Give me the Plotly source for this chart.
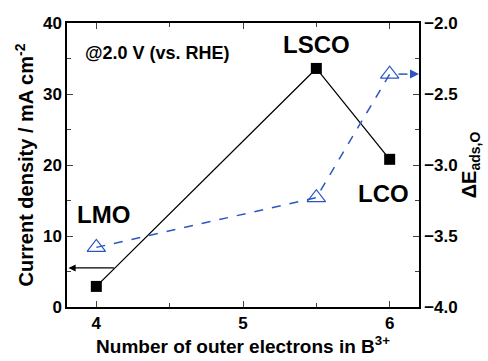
import plotly.graph_objects as go

electrons = [4, 5.5, 6]
current_density = [2.9, 33.6, 20.8]
delta_e = [-3.58, -3.23, -2.36]
labels = ["LMO", "LSCO", "LCO"]
label_x = [4.05, 5.5, 5.96]
label_y = [13.0, 37.0, 16.0]

BLUE = "#2b56c2"
FONT = "Liberation Sans"

fig = go.Figure()
fig.add_trace(go.Scatter(
    x=electrons, y=current_density, mode="lines+markers",
    line=dict(color="black", width=1.3),
    marker=dict(symbol="square", size=11, color="black"),
    showlegend=False, yaxis="y", cliponaxis=False))
fig.add_trace(go.Scatter(
    x=electrons, y=delta_e, mode="lines+markers",
    line=dict(color=BLUE, width=1.5, dash="dash"),
    marker=dict(symbol="triangle-up-open", size=16, color=BLUE, line=dict(width=1.2)),
    showlegend=False, yaxis="y2", cliponaxis=False))

# blue dashed arrow to right axis
fig.add_trace(go.Scatter(
    x=[6.06, 6.17], y=[delta_e[2], delta_e[2]], mode="lines",
    line=dict(color=BLUE, width=1.5, dash="dash"),
    showlegend=False, yaxis="y2", cliponaxis=False))
fig.add_annotation(x=6.2, y=delta_e[2], ax=6.15, ay=delta_e[2], xref="x", yref="y2",
                   axref="x", ayref="y2", showarrow=True, arrowhead=2, arrowsize=1.2,
                   arrowwidth=1.5, arrowcolor=BLUE, text="")
# black arrow to left axis
fig.add_annotation(x=3.81, y=5.5, ax=4.13, ay=5.5, xref="x", yref="y",
                   axref="x", ayref="y", showarrow=True, arrowhead=2, arrowsize=1.1,
                   arrowwidth=1.3, arrowcolor="black", text="")

for t, lx, ly in zip(labels, label_x, label_y):
    fig.add_annotation(x=lx, y=ly, xref="x", yref="y", text=t, showarrow=False,
                       font=dict(family=FONT, size=24, color="black", weight="bold"))

fig.add_annotation(x=0.045, y=0.935, xref="paper", yref="paper", xanchor="left",
                   text="@2.0 V (vs. RHE)", showarrow=False,
                   font=dict(family=FONT, size=18, color="black", weight="bold"))

tickfont = dict(family=FONT, size=17, color="black", weight="bold")
titlefont = dict(family=FONT, size=20, color="black", weight="bold")
xtitlefont = dict(family=FONT, size=19, color="black", weight="bold")

fig.update_layout(
    width=488, height=361,
    margin=dict(l=67, r=64, t=23, b=51),
    paper_bgcolor="white", plot_bgcolor="white",
    xaxis=dict(range=[3.8, 6.2], tickvals=[4, 5, 6], ticks="inside", ticklen=6,
               tickwidth=1.3, showline=True, linecolor="black", linewidth=1.5,
               mirror="ticks", showgrid=False, zeroline=False, tickfont=tickfont,
               minor=dict(tickvals=[4.5, 5.5], ticks="inside", ticklen=4, tickwidth=1.3),
               title=dict(text="Number of outer electrons in B<sup>3+</sup>", font=xtitlefont, standoff=3)),
    yaxis=dict(range=[0, 40], dtick=10, ticks="inside", ticklen=6, tickwidth=1.3,
               showline=True, linecolor="black", linewidth=1.5, showgrid=False,
               zeroline=False, tickfont=tickfont,
               minor=dict(dtick=5, ticks="inside", ticklen=4, tickwidth=1.3),
               title=dict(text="Current density / mA cm<sup>-2</sup>", font=titlefont, standoff=4)),
    yaxis2=dict(range=[-4.0, -2.0], dtick=0.5, tickformat=".1f", overlaying="y", side="right",
                ticks="inside", ticklen=6, tickwidth=1.3, showline=True, linecolor="black",
                linewidth=1.5, showgrid=False, zeroline=False, tickfont=tickfont,
                minor=dict(dtick=0.25, ticks="inside", ticklen=4, tickwidth=1.3),
                title=dict(text="ΔE<sub>ads,O</sub>", font=titlefont, standoff=4)),
)

fig.write_html("out.html")
